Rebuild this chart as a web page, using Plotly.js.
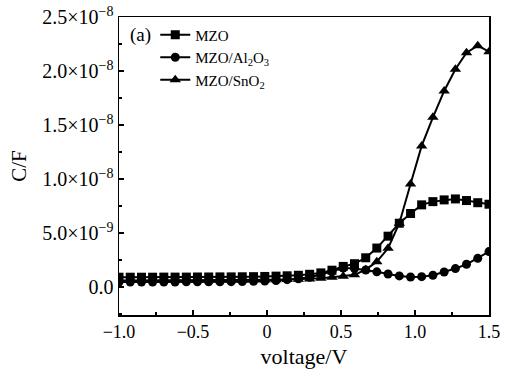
<!DOCTYPE html>
<html>
<head>
<meta charset="utf-8">
<script src="https://cdn.plot.ly/plotly-3.0.1.min.js"></script>
<style>html,body{margin:0;padding:0;background:#fff;}#chart{width:505px;height:380px;}</style>
</head>
<body>
<div id="chart"></div>
<script>
// voltage (V)
const voltage = [-1.000, -0.924, -0.848, -0.773, -0.697, -0.621, -0.545, -0.470, -0.394, -0.318,
  -0.242, -0.167, -0.091, -0.015, 0.061, 0.136, 0.212, 0.288, 0.364, 0.439,
  0.515, 0.591, 0.667, 0.742, 0.818, 0.894, 0.970, 1.045, 1.121, 1.197,
  1.273, 1.348, 1.424, 1.500];
// capacitance, units of 1e-9 F
const mzo = [0.90, 0.90, 0.90, 0.90, 0.91, 0.91, 0.91, 0.92, 0.92, 0.93,
  0.93, 0.94, 0.95, 0.97, 1.00, 1.03, 1.08, 1.17, 1.30, 1.55,
  1.90, 2.15, 2.70, 3.60, 4.70, 5.90, 6.80, 7.60, 7.90, 8.06,
  8.15, 8.00, 7.80, 7.66];
const al2o3 = [0.45, 0.45, 0.45, 0.46, 0.46, 0.46, 0.47, 0.47, 0.48, 0.48,
  0.49, 0.50, 0.52, 0.55, 0.60, 0.67, 0.75, 0.90, 1.15, 1.45,
  1.75, 1.70, 1.57, 1.40, 1.20, 1.02, 0.92, 0.95, 1.08, 1.38,
  1.70, 2.10, 2.65, 3.27];
const sno2 = [0.60, 0.60, 0.60, 0.60, 0.61, 0.61, 0.61, 0.62, 0.62, 0.62,
  0.63, 0.63, 0.64, 0.65, 0.66, 0.68, 0.70, 0.74, 0.80, 0.90,
  1.00, 1.12, 1.60, 2.34, 3.58, 5.90, 9.54, 13.06, 15.71, 18.15,
  20.16, 21.69, 22.34, 21.79];
const seriesNames = ['MZO', 'MZO/Al<sub>2</sub>O<sub>3</sub>', 'MZO/SnO<sub>2</sub>'];
const yTickVals = [0, 5e-9, 1e-8, 1.5e-8, 2e-8, 2.5e-8];
const yTickText = ['0.0', '5.0×10<sup>−9</sup>', '1.0×10<sup>−8</sup>', '1.5×10<sup>−8</sup>', '2.0×10<sup>−8</sup>', '2.5×10<sup>−8</sup>'];
const xTickVals = [-1, -0.5, 0, 0.5, 1, 1.5];
const xTickText = ['−1.0', '−0.5', '0', '0.5', '1.0', '1.5'];

const scale = v => v.map(x => x * 1e-9);
const symbols = ['square', 'circle', 'triangle-up'];
const data = [mzo, al2o3, sno2].map((s, i) => ({
  x: voltage, y: scale(s), name: seriesNames[i], type: 'scatter', mode: 'lines+markers',
  line: {color: '#000', width: 2},
  marker: {symbol: symbols[i], color: '#000', size: i === 2 ? 10 : 9, line: {width: 0}},
  cliponaxis: true
}));

const font = {family: '"Liberation Serif", "Times New Roman", serif', color: '#000'};
const layout = {
  width: 505, height: 380,
  margin: {l: 119, r: 16, t: 17, b: 65},
  paper_bgcolor: '#fff', plot_bgcolor: '#fff',
  font: Object.assign({size: 17}, font),
  showlegend: true,
  legend: {x: 0.098, y: 0.995, xanchor: 'left', yanchor: 'top', bgcolor: 'rgba(0,0,0,0)',
    font: Object.assign({size: 15}, font), tracegroupgap: 0, itemwidth: 30},
  xaxis: {
    range: [-1, 1.5], tickmode: 'array', tickvals: xTickVals, ticktext: xTickText,
    ticks: 'inside', ticklen: 5, tickwidth: 1.2, tickcolor: '#000',
    showline: true, linewidth: 1.5, linecolor: '#000', mirror: true,
    showgrid: false, zeroline: false,
    tickfont: Object.assign({size: 18}, font),
    minor: {tickmode: 'linear', tick0: -1, dtick: 0.25, ticks: 'inside', ticklen: 3, tickcolor: '#000', showgrid: false},
    title: {text: 'voltage/V', font: Object.assign({size: 22}, font), standoff: 7}
  },
  yaxis: {
    range: [-2.6e-9, 2.5e-8], tickmode: 'array', tickvals: yTickVals, ticktext: yTickText,
    ticks: 'inside', ticklen: 5, tickwidth: 1.2, tickcolor: '#000',
    showline: true, linewidth: 1.5, linecolor: '#000', mirror: true,
    showgrid: false, zeroline: false,
    tickfont: Object.assign({size: 20}, font),
    minor: {tickmode: 'linear', tick0: 0, dtick: 2.5e-9, ticks: 'inside', ticklen: 3, tickcolor: '#000', showgrid: false},
    title: {text: 'C/F', font: Object.assign({size: 21}, font), standoff: 10}
  },
  annotations: [{
    text: '(a)', xref: 'paper', yref: 'paper', x: 0.025, y: 0.94, xanchor: 'left', yanchor: 'middle',
    showarrow: false, font: Object.assign({size: 19}, font)
  }]
};
Plotly.newPlot('chart', data, layout, {displayModeBar: false, staticPlot: true});
</script>
</body>
</html>
